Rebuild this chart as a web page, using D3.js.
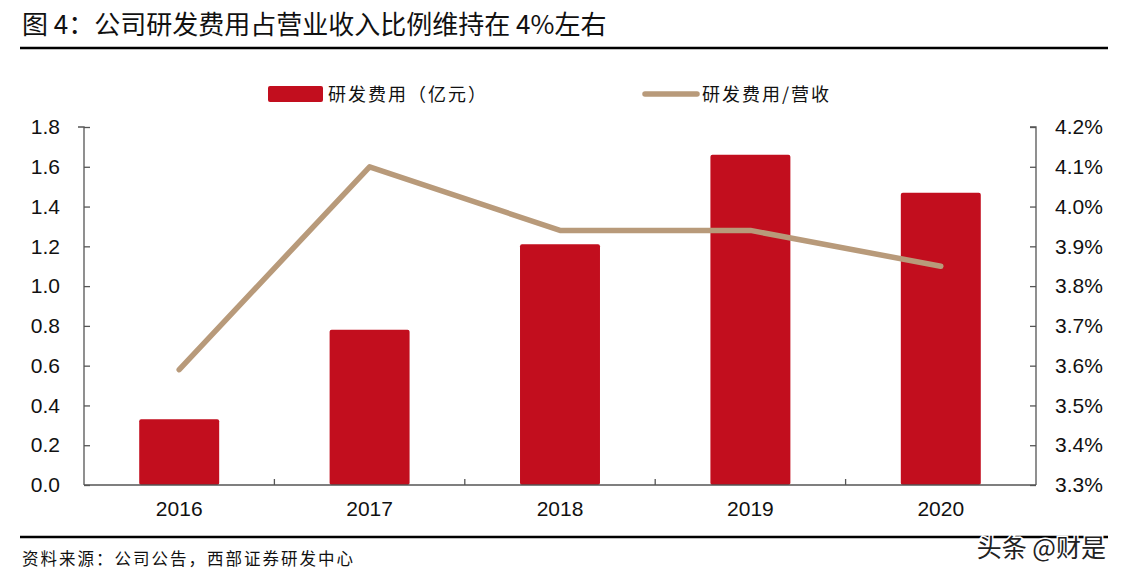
<!DOCTYPE html>
<html><head><meta charset="utf-8">
<script src="https://cdn.jsdelivr.net/npm/d3@7/dist/d3.min.js"></script>
<style>body{margin:0;background:#fff}svg{display:block}</style>
</head><body>
<svg id="c" width="1121" height="580"></svg>
<script>
const categories = ["2016","2017","2018","2019","2020"];
const rdExpense = [0.33, 0.78, 1.21, 1.66, 1.47];      // 亿元
const rdRatio = [0.0359, 0.0410, 0.0394, 0.0394, 0.0385];
const leftTicks = [0,0.2,0.4,0.6,0.8,1.0,1.2,1.4,1.6,1.8];
const rightTicks = [0.033,0.034,0.035,0.036,0.037,0.038,0.039,0.040,0.041,0.042];
const titleText = "图 4：公司研发费用占营业收入比例维持在 4%左右";
const sourceText = "资料来源：公司公告，西部证券研发中心";
const legendBar = "研发费用（亿元）";
const legendLine = "研发费用/营收";

const svg = d3.select("#c");
const L = 84, R = 1036, T = 127, B = 485;
const barColor = "#C20E1E", lineColor = "#B89A7A";
const cjk = "'Noto Sans CJK SC', sans-serif";
const latin = "'Liberation Sans', Arial, sans-serif";

// title
svg.append("text").attr("x", 22).attr("y", 34).attr("font-family", cjk)
  .attr("font-size", 26).attr("font-weight", 400).attr("fill", "#111").text(titleText);
svg.append("line").attr("x1", 20).attr("x2", 1108).attr("y1", 48).attr("y2", 48)
  .attr("stroke", "#000").attr("stroke-width", 2.5);

const x = d3.scaleBand().domain(categories).range([L, R]).paddingInner(0.58).paddingOuter(0.29);
const xb = d3.scaleBand().domain(categories).range([L, R]);
const yL = d3.scaleLinear().domain([0, 1.8]).range([B, T]);
const yR = d3.scaleLinear().domain([0.033, 0.042]).range([B, T]);

// bars
svg.append("g").selectAll("rect").data(rdExpense).join("rect")
  .attr("x", (d,i) => x(categories[i])).attr("width", x.bandwidth())
  .attr("y", d => yL(d)).attr("height", d => yL(0) - yL(d))
  .attr("fill", barColor).attr("rx", 2);

// left axis
const gL = svg.append("g").attr("transform", `translate(${L},0)`)
  .call(d3.axisLeft(yL).tickValues(leftTicks).tickSize(-6).tickPadding(24).tickFormat(d3.format(".1f")));
// right axis
const gR = svg.append("g").attr("transform", `translate(${R},0)`)
  .call(d3.axisRight(yR).tickValues(rightTicks).tickSize(-6).tickPadding(19).tickFormat(d3.format(".1%")));
// x axis
const gX = svg.append("g").attr("transform", `translate(0,${B})`)
  .call(d3.axisBottom(xb).tickSize(0).tickPadding(16));
[gL, gR, gX].forEach(g => {
  g.select(".domain").attr("stroke", "#555").attr("stroke-width", 1.3);
  g.selectAll(".tick line").attr("stroke", "#555").attr("stroke-width", 1.3);
  g.selectAll("text").attr("font-family", latin).attr("font-size", 21).attr("fill", "#111");
});
gL.select(".domain").attr("d", `M-6,${T}H0V${B}`);
gR.select(".domain").attr("d", `M-6,${T}H0V${B}`);
gX.select(".domain").attr("d", `M${L},0H${R}`);
// category boundary ticks
svg.append("g").selectAll("line").data(categories.slice(1)).join("line")
  .attr("x1", d => xb(d)).attr("x2", d => xb(d)).attr("y1", B).attr("y2", B - 6)
  .attr("stroke", "#555").attr("stroke-width", 1.3);

// line
const line = d3.line().x((d,i) => xb(categories[i]) + xb.bandwidth()/2).y(d => yR(d));
svg.append("path").datum(rdRatio).attr("d", line).attr("fill", "none")
  .attr("stroke", lineColor).attr("stroke-width", 5.5).attr("stroke-linecap", "round").attr("stroke-linejoin", "round");

// legend
svg.append("rect").attr("x", 268).attr("y", 86).attr("width", 55).attr("height", 16).attr("rx", 2).attr("fill", barColor);
svg.append("text").attr("x", 328).attr("y", 101).attr("font-family", cjk).attr("font-size", 18)
  .attr("letter-spacing", 2).attr("fill", "#111").text(legendBar);
svg.append("line").attr("x1", 645).attr("x2", 697).attr("y1", 94).attr("y2", 94)
  .attr("stroke", lineColor).attr("stroke-width", 5.5).attr("stroke-linecap", "round");
svg.append("text").attr("x", 702).attr("y", 101).attr("font-family", cjk).attr("font-size", 18)
  .attr("letter-spacing", 2).attr("fill", "#111").text(legendLine);

// footer
svg.append("line").attr("x1", 20).attr("x2", 1108).attr("y1", 537).attr("y2", 537)
  .attr("stroke", "#000").attr("stroke-width", 2.5);
svg.append("text").attr("x", 22).attr("y", 565).attr("font-family", cjk).attr("font-size", 16.5)
  .attr("letter-spacing", 2).attr("fill", "#111").text(sourceText);
svg.append("text").attr("x", 1106).attr("y", 557).attr("text-anchor", "end").attr("font-family", cjk)
  .attr("font-size", 25).attr("fill", "#222").attr("stroke", "#fff").attr("stroke-width", 3)
  .attr("paint-order", "stroke").text("头条 @财是");
</script>
</body></html>
